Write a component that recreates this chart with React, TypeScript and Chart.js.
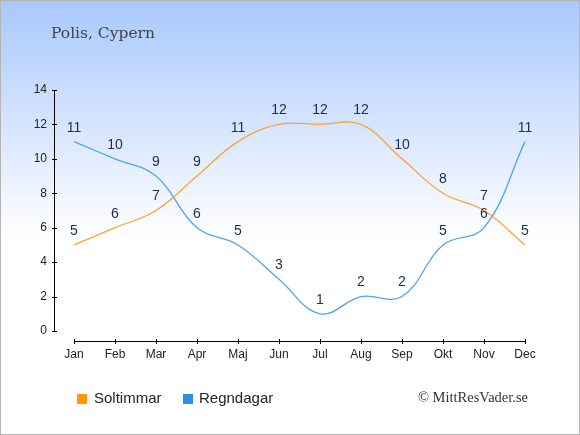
import { useEffect, useRef } from 'react'
import { Chart, registerables, type ChartConfiguration, type Plugin } from 'chart.js'

Chart.register(...registerables)

const months = ['Jan', 'Feb', 'Mar', 'Apr', 'Maj', 'Jun', 'Jul', 'Aug', 'Sep', 'Okt', 'Nov', 'Dec']
const sunHours = [5, 6, 7, 9, 11, 12, 12, 12, 10, 8, 7, 5]
const rainDays = [11, 10, 9, 6, 5, 3, 1, 2, 2, 5, 6, 11]
const yTicks = [0, 2, 4, 6, 8, 10, 12, 14]

const sunLine = '#f7a634'
const rainLine = '#4ea5ee'
const sunMarker = '#ff9a00'
const rainMarker = '#2b90e6'

const decorPlugin: Plugin<'line'> = {
  id: 'decor',
  beforeDraw(chart) {
    const { ctx, width, height } = chart
    const grad = ctx.createLinearGradient(0, 0, 0, height)
    grad.addColorStop(0, '#a8c8fd')
    grad.addColorStop(0.55, '#ffffff')
    grad.addColorStop(1, '#ffffff')
    ctx.save()
    ctx.fillStyle = grad
    ctx.fillRect(0, 0, width, height)
    ctx.strokeStyle = '#b4b4b4'
    ctx.lineWidth = 1
    ctx.strokeRect(0.5, 0.5, width - 1, height - 1)

    ctx.fillStyle = '#444444'
    ctx.font = '15.5px "DejaVu Serif"'
    ctx.textBaseline = 'alphabetic'
    ctx.fillText('Polis, Cypern', 51, 38)
    ctx.restore()
  },
  afterDraw(chart) {
    const { ctx } = chart
    const x = chart.scales.x
    const y = chart.scales.y
    ctx.save()
    ctx.strokeStyle = '#000000'
    ctx.lineWidth = 1

    // y axis, detached from the plot
    const ax = 54.5
    ctx.beginPath()
    ctx.moveTo(ax, y.getPixelForValue(14))
    ctx.lineTo(ax, y.getPixelForValue(0))
    yTicks.forEach((t) => {
      const py = Math.round(y.getPixelForValue(t)) + 0.5
      ctx.moveTo(ax - 2.5, py)
      ctx.lineTo(ax + 2.5, py)
    })
    ctx.stroke()

    // x axis
    const ay = 341.5
    ctx.beginPath()
    ctx.moveTo(x.getPixelForValue(0), ay)
    ctx.lineTo(x.getPixelForValue(months.length - 1), ay)
    months.forEach((_, i) => {
      const px = Math.round(x.getPixelForValue(i)) + 0.5
      ctx.moveTo(px, ay - 2.5)
      ctx.lineTo(px, ay + 2.5)
    })
    ctx.stroke()

    // data labels
    ctx.font = '14px "Liberation Sans", Arial, sans-serif'
    ctx.fillStyle = '#1e2b4a'
    ctx.textAlign = 'center'
    ctx.textBaseline = 'middle'
    chart.data.datasets.forEach((ds, di) => {
      const meta = chart.getDatasetMeta(di)
      meta.data.forEach((pt, i) => {
        ctx.fillText(String(ds.data[i]), pt.x, pt.y - 14)
      })
    })

    // legend
    ctx.font = '15px "Liberation Sans", Arial, sans-serif'
    ctx.textAlign = 'left'
    ctx.fillStyle = sunMarker
    ctx.fillRect(77, 394, 10, 10)
    ctx.fillStyle = rainMarker
    ctx.fillRect(183, 394, 10, 10)
    ctx.fillStyle = '#222222'
    ctx.fillText(String(chart.data.datasets[0].label), 94, 399)
    ctx.fillText(String(chart.data.datasets[1].label), 199, 399)

    // credit
    ctx.font = '14.5px "Liberation Serif"'
    ctx.fillStyle = '#333333'
    ctx.textAlign = 'right'
    ctx.fillText('© MittResVader.se', 528, 398)
    ctx.restore()
  },
}

export default function App() {
  const canvasRef = useRef<HTMLCanvasElement | null>(null)
  const chartRef = useRef<Chart<'line'> | null>(null)

  useEffect(() => {
    const canvas = canvasRef.current
    if (!canvas) {
      return
    }
    document.body.style.margin = '0'

    if (chartRef.current) {
      chartRef.current.destroy()
    }

    const tickFont = { family: '"Liberation Sans", Arial, sans-serif', size: 12 }

    const config: ChartConfiguration<'line'> = {
      type: 'line',
      data: {
        labels: months,
        datasets: [
          {
            label: 'Soltimmar',
            data: sunHours,
            borderColor: sunLine,
            borderWidth: 1.3,
            pointRadius: 0,
            tension: 0.4,
            fill: false,
          },
          {
            label: 'Regndagar',
            data: rainDays,
            borderColor: rainLine,
            borderWidth: 1.3,
            pointRadius: 0,
            tension: 0.4,
            fill: false,
          },
        ],
      },
      options: {
        responsive: false,
        animation: false,
        devicePixelRatio: 1,
        layout: {
          padding: { top: 90, right: 55, bottom: 0, left: 0 },
        },
        plugins: {
          legend: { display: false },
          title: { display: false },
          tooltip: { enabled: false },
        },
        scales: {
          x: {
            offset: false,
            grid: { display: true, drawOnChartArea: false, drawTicks: false, color: 'transparent' },
            border: { display: false },
            ticks: {
              color: '#222222',
              font: tickFont,
              padding: 16,
              maxRotation: 0,
              autoSkip: false,
            },
            afterFit: (scale) => {
              scale.height = 104
            },
          },
          y: {
            min: 0,
            max: 14,
            grid: { display: true, drawOnChartArea: false, drawTicks: false, color: 'transparent' },
            border: { display: false },
            ticks: {
              stepSize: 2,
              color: '#222222',
              font: tickFont,
              padding: 27,
            },
            afterFit: (scale) => {
              scale.width = 74
            },
          },
        },
      },
      plugins: [decorPlugin],
    }

    chartRef.current = new Chart(canvas, config)

    return () => {
      chartRef.current?.destroy()
      chartRef.current = null
    }
  }, [])

  return (
    <div style={{ width: 580, height: 435 }}>
      <canvas ref={canvasRef} width={580} height={435} aria-label="Soltimmar och regndagar i Polis, Cypern" role="img" />
    </div>
  )
}
